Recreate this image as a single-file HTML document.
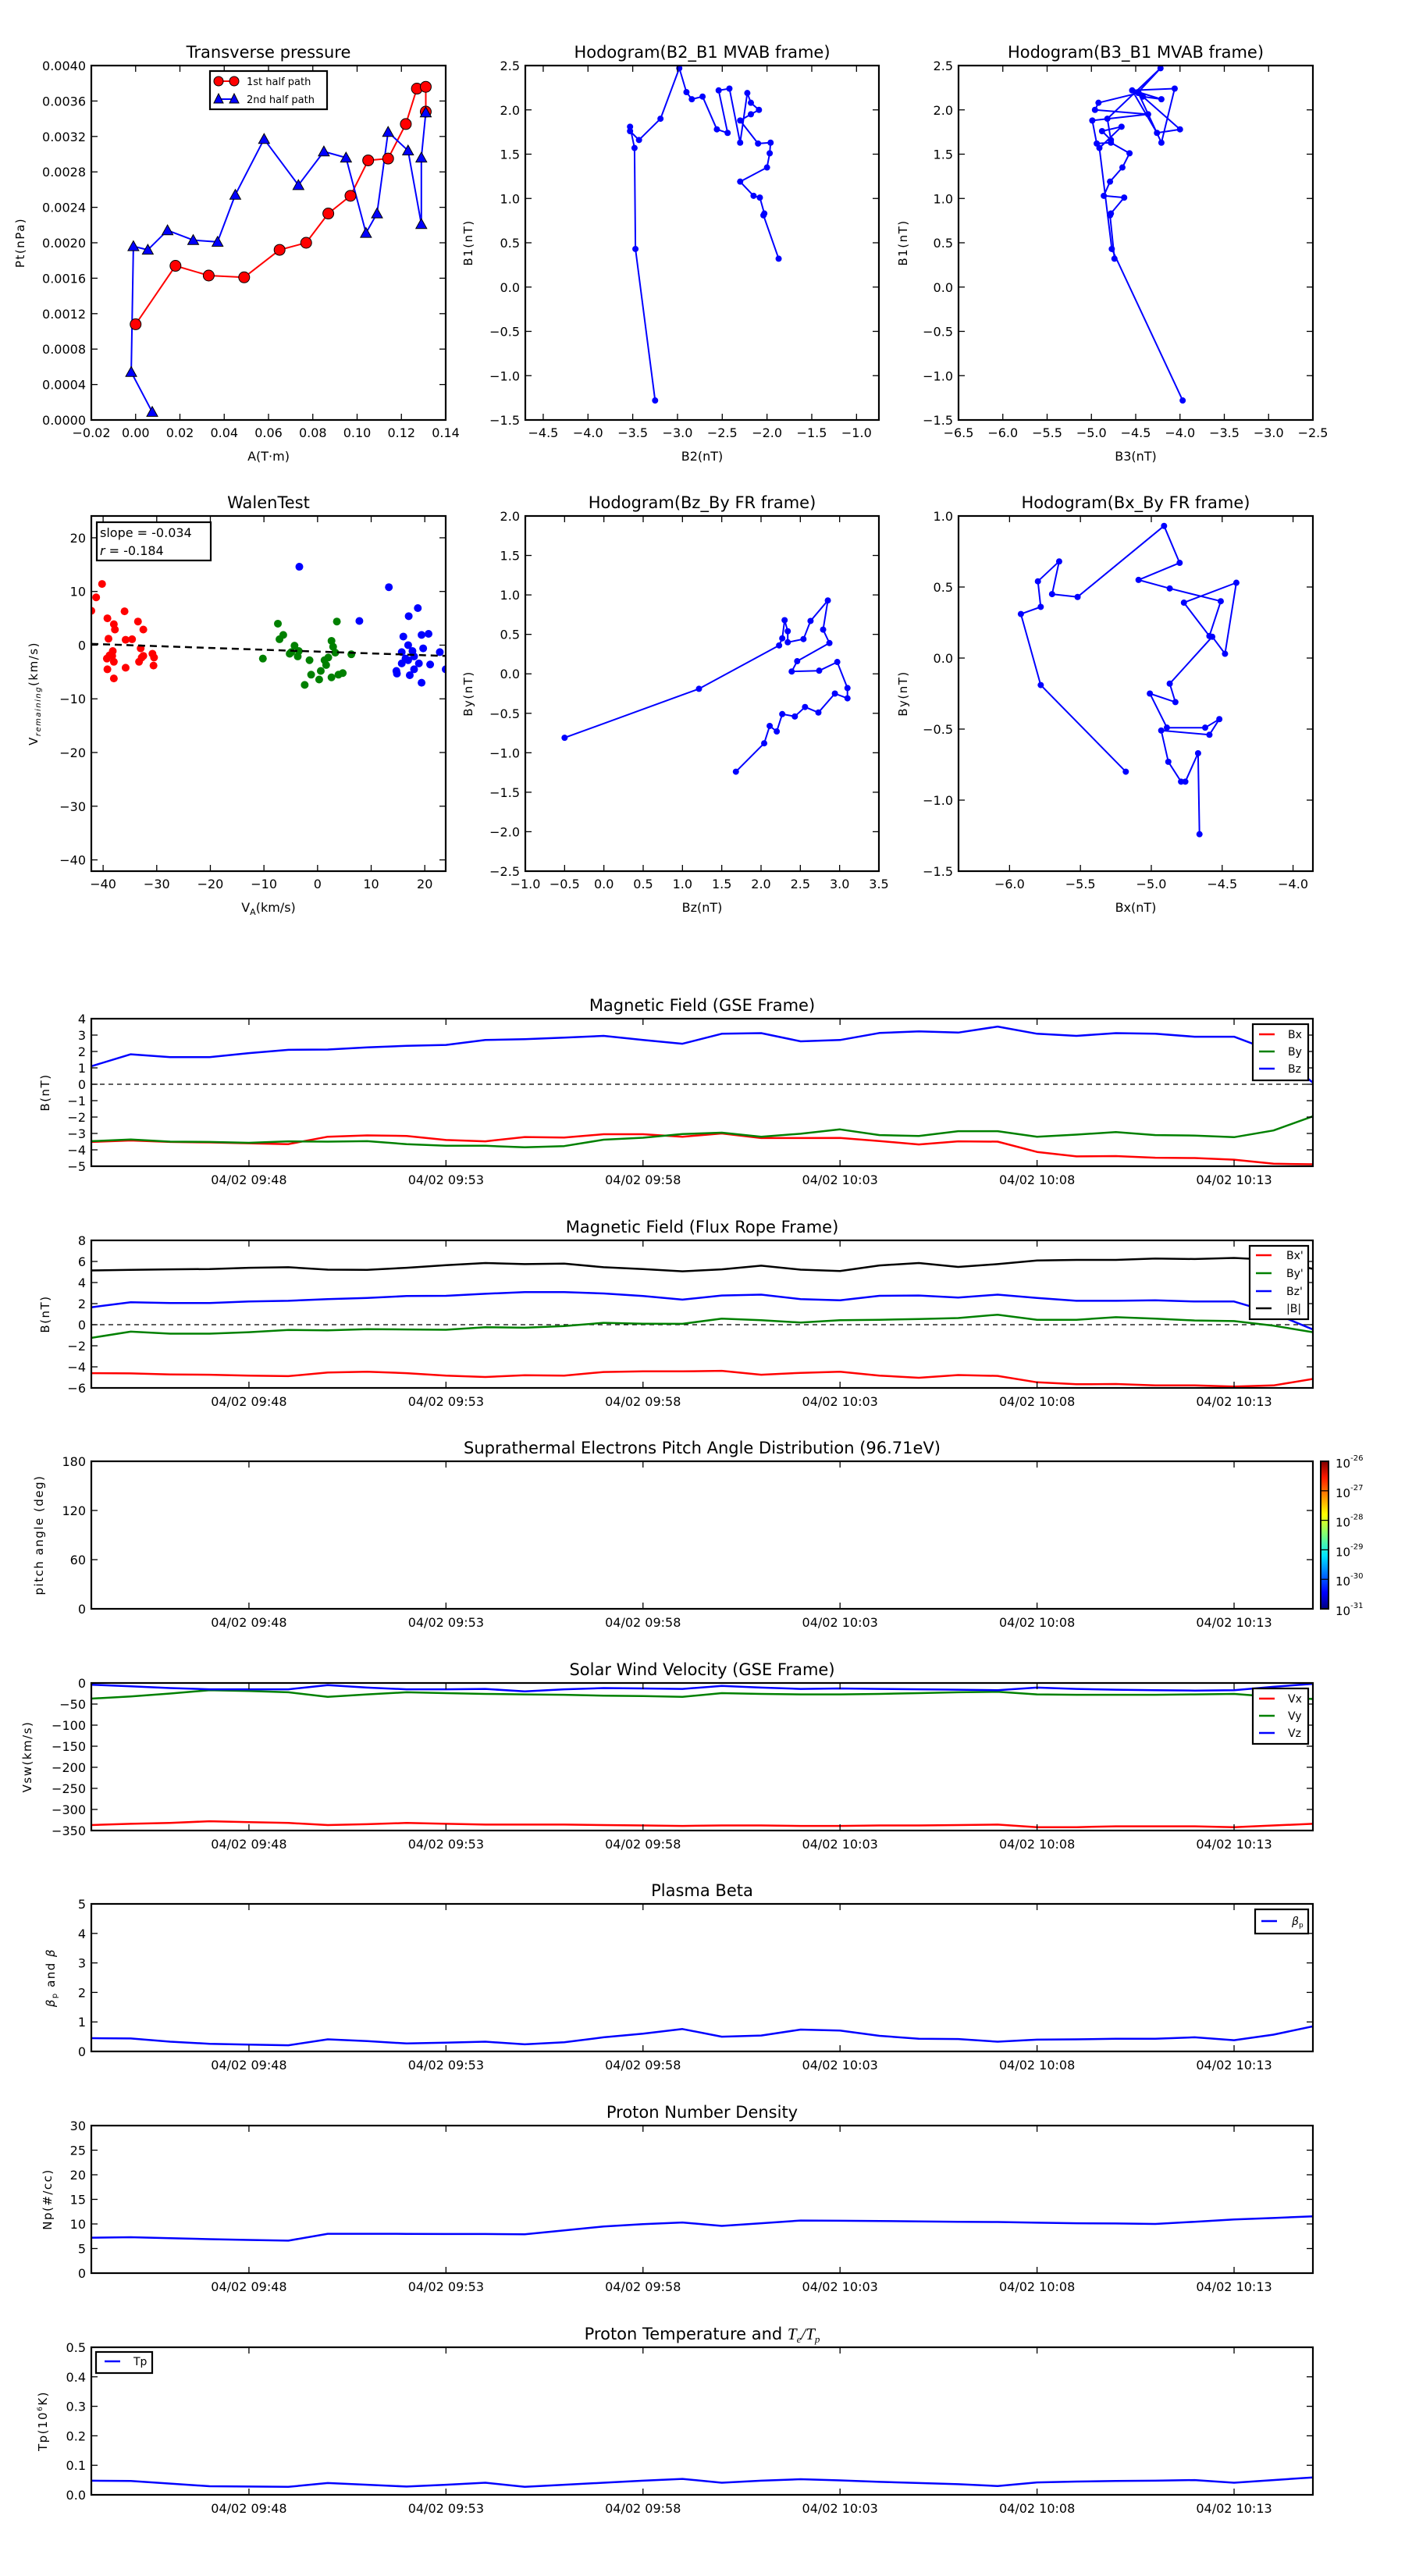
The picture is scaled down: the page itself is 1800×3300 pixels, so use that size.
<!DOCTYPE html>
<html><head><meta charset="utf-8">
<style>
html,body{margin:0;padding:0;background:#fff;}
svg{display:block;font-family:"DejaVu Sans","Liberation Sans",sans-serif;}
</style></head>
<body>
<svg id="chart" xmlns="http://www.w3.org/2000/svg" width="1800" height="3300" viewBox="0 0 1800 3300">
<defs>
<linearGradient id="jet" x1="0" y1="1" x2="0" y2="0">
<stop offset="0" stop-color="#00007f"/><stop offset="0.11" stop-color="#0000ff"/><stop offset="0.36" stop-color="#00e5ff"/><stop offset="0.5" stop-color="#7cff79"/><stop offset="0.64" stop-color="#ffff00"/><stop offset="0.89" stop-color="#ff1a00"/><stop offset="1" stop-color="#7f0000"/>
</linearGradient>
</defs>
</svg>
<script>
// ---------- data ----------
const minutes = [0,1,2,3,4,5,6,7,8,9,10,11,12,13,14,15,16,17,18,19,20,21,22,23,24,25,26,27,28,29,30,31];
const timeTickMinutes = [4,9,14,19,24,29];
const timeTickLabels = ["04/02 09:48","04/02 09:53","04/02 09:58","04/02 10:03","04/02 10:08","04/02 10:13"];

const gseBx = [-3.52,-3.43,-3.52,-3.55,-3.6,-3.65,-3.2,-3.12,-3.15,-3.4,-3.48,-3.22,-3.25,-3.05,-3.05,-3.2,-3.0,-3.28,-3.28,-3.27,-3.46,-3.67,-3.48,-3.5,-4.13,-4.4,-4.38,-4.48,-4.5,-4.6,-4.85,-4.88];
const gseBy = [-3.47,-3.37,-3.5,-3.52,-3.57,-3.48,-3.5,-3.47,-3.65,-3.75,-3.75,-3.85,-3.77,-3.38,-3.26,-3.04,-2.95,-3.2,-3.02,-2.75,-3.1,-3.15,-2.86,-2.86,-3.2,-3.07,-2.92,-3.1,-3.13,-3.23,-2.82,-1.95];
const gseBz = [1.1,1.83,1.65,1.65,1.9,2.1,2.12,2.25,2.35,2.4,2.7,2.75,2.85,2.95,2.7,2.47,3.08,3.12,2.62,2.7,3.13,3.23,3.15,3.52,3.08,2.95,3.12,3.08,2.9,2.9,2.0,0.1];

const frBx = [-4.6,-4.62,-4.72,-4.75,-4.83,-4.88,-4.54,-4.46,-4.6,-4.83,-4.96,-4.8,-4.83,-4.49,-4.43,-4.43,-4.38,-4.75,-4.57,-4.46,-4.83,-5.04,-4.78,-4.86,-5.47,-5.65,-5.63,-5.76,-5.76,-5.87,-5.76,-5.15];
const frBy = [-1.25,-0.66,-0.85,-0.85,-0.71,-0.5,-0.53,-0.42,-0.45,-0.48,-0.24,-0.29,-0.13,0.18,0.1,0.08,0.58,0.42,0.21,0.42,0.47,0.53,0.63,0.95,0.47,0.47,0.71,0.58,0.4,0.34,-0.1,-0.71];
const frBz = [1.65,2.13,2.06,2.06,2.2,2.27,2.43,2.53,2.72,2.74,2.93,3.09,3.09,2.96,2.72,2.38,2.77,2.85,2.43,2.32,2.74,2.77,2.58,2.85,2.53,2.27,2.27,2.32,2.2,2.2,1.1,-0.45];
const frBt = [5.15,5.2,5.25,5.28,5.4,5.45,5.22,5.2,5.4,5.65,5.85,5.75,5.8,5.45,5.28,5.07,5.25,5.6,5.22,5.1,5.62,5.85,5.48,5.75,6.1,6.15,6.15,6.28,6.23,6.33,6.15,5.3];

const swVx = [-337,-334,-332,-328,-330,-332,-337,-335,-332,-334,-336,-336,-336,-337,-338,-339,-338,-338,-339,-339,-338,-338,-337,-336,-342,-342,-340,-340,-340,-342,-338,-334];
const swVy = [-37,-32,-25,-17,-19,-22,-33,-27,-22,-24,-26,-27,-28,-30,-31,-33,-24,-26,-27,-27,-26,-24,-22,-21,-27,-28,-28,-28,-27,-26,-33,-38];
const swVz = [-4,-8,-12,-15,-15,-15,-5,-11,-15,-15,-14,-20,-15,-12,-13,-14,-7,-11,-14,-13,-14,-15,-16,-17,-11,-14,-16,-17,-18,-17,-9,-2];

const betaP = [0.45,0.44,0.33,0.26,0.23,0.21,0.41,0.35,0.27,0.3,0.33,0.24,0.31,0.48,0.6,0.76,0.5,0.54,0.74,0.71,0.53,0.43,0.42,0.33,0.4,0.41,0.43,0.43,0.48,0.38,0.57,0.85];
const densityNp = [7.2,7.3,7.1,6.9,6.75,6.6,8.0,8.0,7.98,7.95,7.95,7.9,8.7,9.5,9.95,10.3,9.6,10.15,10.7,10.65,10.6,10.5,10.45,10.4,10.25,10.15,10.1,10.0,10.45,10.9,11.2,11.55];
const tempTp = [0.048,0.047,0.038,0.029,0.028,0.027,0.040,0.034,0.028,0.034,0.041,0.027,0.034,0.041,0.048,0.054,0.041,0.048,0.053,0.049,0.044,0.040,0.036,0.030,0.042,0.045,0.047,0.048,0.050,0.041,0.050,0.059];

const pt1A = [0.0,0.018,0.033,0.049,0.065,0.077,0.087,0.097,0.105,0.114,0.122,0.127,0.131,0.131];
const pt1P = [0.00108,0.00174,0.00163,0.00161,0.00192,0.0020,0.00233,0.00253,0.00293,0.00295,0.00334,0.00374,0.00376,0.00348];
const pt2A = [0.0075,-0.002,-0.001,0.0055,0.0144,0.026,0.037,0.045,0.058,0.0735,0.085,0.095,0.104,0.109,0.114,0.123,0.129,0.129,0.131];
const pt2P = [0.00009,0.00054,0.00196,0.00192,0.00214,0.00203,0.00201,0.00254,0.00317,0.00265,0.00303,0.00296,0.00211,0.00233,0.00325,0.00304,0.00221,0.00296,0.00347];

const mvB1 = [-1.28,0.43,1.57,1.81,1.76,1.66,1.90,2.47,2.2,2.12,2.15,1.78,1.74,2.22,2.24,1.63,2.19,2.08,2.0,1.95,1.88,1.62,1.63,1.51,1.35,1.19,1.03,1.01,0.83,0.81,0.32];
const mvB2 = [-3.25,-3.47,-3.48,-3.53,-3.53,-3.43,-3.19,-2.98,-2.9,-2.84,-2.72,-2.56,-2.44,-2.54,-2.42,-2.3,-2.22,-2.18,-2.09,-2.18,-2.3,-2.1,-1.96,-1.97,-2.0,-2.3,-2.15,-2.08,-2.03,-2.04,-1.87];
const mvB3 = [-3.97,-4.77,-4.91,-4.66,-4.88,-4.78,-4.82,-4.22,-4.47,-4.21,-4.42,-4.0,-4.26,-4.54,-4.06,-4.21,-4.47,-4.92,-4.96,-4.36,-4.99,-4.94,-4.78,-4.57,-4.65,-4.79,-4.86,-4.63,-4.78,-4.79,-4.74];

const walenRedX = [-40.2,-41.3,-42.2,-36,-39.2,-38,-33.5,-32.5,-37.8,-39,-35.8,-34.6,-33,-38.2,-30.8,-38.8,-32.5,-30.5,-39.3,-38,-33.3,-35.8,-39.2,-30.6,-38,-32.8,-38.3];
const walenRedY = [11.4,8.9,6.4,6.3,5.0,3.9,4.4,2.9,2.9,1.2,1.0,1.1,-0.6,-1.1,-1.6,-1.9,-2.0,-2.3,-2.5,-3.1,-3.1,-4.2,-4.5,-3.8,-6.2,-2.3,-2.0];
const walenGreenX = [-7.4,-6.4,-7.1,-10.2,-4.3,-3.5,-5.2,-3.7,-1.5,1.3,1.6,3.6,2.6,2.9,3.3,6.3,2.0,-1.2,0.3,-2.4,2.6,4.7,0.6,3.9,-4.9];
const walenGreenY = [4.0,1.9,1.1,-2.5,-0.1,-1.1,-1.6,-2.1,-2.8,-2.8,-3.7,4.4,0.8,-0.3,-1.4,-1.7,-2.3,-5.5,-6.4,-7.4,-6.0,-5.2,-4.8,-5.5,-1.3];
const walenBlueX = [-3.4,13.3,7.8,18.7,17,20.7,16,19.4,16.9,19.7,22.8,15.7,18,16.9,15.7,18.9,21,23.9,18,14.8,17.2,19.4,14.7,17.7,16.4];
const walenBlueY = [14.6,10.8,4.5,6.9,5.4,2.1,1.6,1.9,0.0,-0.6,-1.3,-1.3,-2.1,-2.8,-3.4,-3.4,-3.6,-4.5,-4.5,-5.3,-5.6,-7.0,-4.8,-1.1,-2.5];
const walenSlope = -0.034;
const walenIntercept = -1.2;

const frHodoBz = [-0.5,1.21,2.23,2.27,2.3,2.34,2.34,2.54,2.63,2.85,2.79,2.87,2.46,2.39,2.74,2.97,3.1,3.1,2.94,2.73,2.56,2.43,2.27,2.2,2.11,2.04,1.68];
const frHodoByZ = [-0.81,-0.19,0.36,0.45,0.68,0.54,0.40,0.44,0.67,0.93,0.56,0.39,0.16,0.03,0.04,0.15,-0.18,-0.31,-0.25,-0.49,-0.42,-0.54,-0.51,-0.73,-0.66,-0.88,-1.24];
const frHodoBx = [-5.18,-5.78,-5.92,-5.78,-5.8,-5.65,-5.70,-5.52,-4.91,-4.8,-5.09,-4.87,-4.51,-4.59,-4.77,-4.4,-4.48,-4.57,-4.87,-4.83,-5.01,-4.89,-4.62,-4.52,-4.59,-4.93,-4.88,-4.79,-4.76,-4.67,-4.66];
const frHodoByX = [-0.80,-0.19,0.31,0.36,0.54,0.68,0.45,0.43,0.93,0.67,0.55,0.49,0.40,0.155,0.39,0.53,0.03,0.15,-0.18,-0.31,-0.25,-0.49,-0.49,-0.43,-0.54,-0.51,-0.73,-0.87,-0.87,-0.67,-1.24];

// ---------- helpers ----------
const NS = "http://www.w3.org/2000/svg";
const svg = document.getElementById('chart');
function mk(tag, attrs, parent){
  const e = document.createElementNS(NS, tag);
  for (const k in attrs) e.setAttribute(k, attrs[k]);
  (parent || svg).appendChild(e);
  return e;
}
function txt(str, attrs, parent){
  const e = mk('text', attrs, parent);
  e.textContent = str;
  return e;
}
const M = s => String(s).replace('-', '\u2212');
let clipId = 0;

function drawAxes(c){
  const g = mk('g', {});
  
  
  const sx = v => c.x0 + (v - c.xmin) / (c.xmax - c.xmin) * (c.x1 - c.x0);
  const sy = v => c.y1 - (v - c.ymin) / (c.ymax - c.ymin) * (c.y1 - c.y0);
  const id = 'clip' + (clipId++);
  const cp = mk('clipPath', {id: id}, g);
  mk('rect', {x: c.x0, y: c.y0, width: c.x1 - c.x0, height: c.y1 - c.y0}, cp);
  const data = mk('g', {'clip-path': 'url(#' + id + ')'}, g);
  
  
  const ax = mk('g', {stroke: '#000', 'stroke-width': 1.3}, g);
  
  
  c.xticks.forEach((v, i) => {
    const x = sx(v);
    mk('line', {x1: x, y1: c.y1, x2: x, y2: c.y1 - 8}, ax);
    mk('line', {x1: x, y1: c.y0, x2: x, y2: c.y0 + 8}, ax);
    const t = txt(c.xlabels[i], {x: x, y: c.y1 + (c.xlabOff || 23), 'text-anchor': 'middle', 'font-size': 16}, g);
    
    
  });
  c.yticks.forEach((v, i) => {
    const y = sy(v);
    mk('line', {x1: c.x0, y1: y, x2: c.x0 + 8, y2: y}, ax);
    mk('line', {x1: c.x1, y1: y, x2: c.x1 - 8, y2: y}, ax);
    const t = txt(c.ylabels[i], {x: c.x0 - 7, y: y + 6, 'text-anchor': 'end', 'font-size': 16}, g);
    
    
  });
  const ttl = mk('text', {x: (c.x0 + c.x1) / 2, y: c.y0 - 10, 'text-anchor': 'middle', 'font-size': 21}, g);
  ttl.innerHTML = c.title;
  
  
  if (c.xlabel){
    const xl = mk('text', {x: (c.x0 + c.x1) / 2, y: c.y1 + 52, 'text-anchor': 'middle', 'font-size': 16}, g);
    xl.innerHTML = c.xlabel;
    
    
  }
  if (c.ylabel){
    const cy = (c.y0 + c.y1) / 2;
    const yl = mk('text', {x: c.ylx, y: cy, 'text-anchor': 'middle', 'font-size': 15, 'letter-spacing': 1.5, transform: 'rotate(-90 ' + c.ylx + ' ' + cy + ')'}, g);
    yl.innerHTML = c.ylabel;
    
    
  }
  const fr = mk('rect', {x: c.x0, y: c.y0, width: c.x1 - c.x0, height: c.y1 - c.y0, fill: 'none', stroke: '#000', 'stroke-width': 2.2}, g);
  
  
  return {g: g, data: data, sx: sx, sy: sy};
}
function polyline(a, xs, ys, color, w, name){
  const pts = xs.map((x, i) => a.sx(x).toFixed(1) + ',' + a.sy(ys[i]).toFixed(1)).join(' ');
  const p = mk('polyline', {points: pts, fill: 'none', stroke: color, 'stroke-width': w, 'stroke-linejoin': 'round'}, a.data);
  
  
  return p;
}
function dots(a, xs, ys, color, r, name, stroke){
  xs.forEach((x, i) => {
    const c = mk('circle', {cx: a.sx(x), cy: a.sy(ys[i]), r: r, fill: color, stroke: stroke || 'none', 'stroke-width': 1}, a.data);
    
    
  });
}
function tris(a, xs, ys, color, s, name){
  xs.forEach((x, i) => {
    const cx = a.sx(x), cy = a.sy(ys[i]);
    const p = mk('polygon', {points: cx + ',' + (cy - s) + ' ' + (cx - s) + ',' + (cy + s * 0.8) + ' ' + (cx + s) + ',' + (cy + s * 0.8), fill: color, stroke: '#000', 'stroke-width': 1}, a.data);
    
    
  });
}
function legend(x0, y0, w, h, entries, name){
  const g = mk('g', {});
  
  
  const r = mk('rect', {x: x0, y: y0, width: w, height: h, fill: '#fff', stroke: '#000', 'stroke-width': 2.2}, g);
  
  
  entries.forEach(e => {
    const l = mk('line', {x1: e.lx, y1: e.y, x2: e.lx + 20, y2: e.y, stroke: e.color, 'stroke-width': 2.5}, g);
    
    
    const t = mk('text', {x: e.tx, y: e.y + 5, 'font-size': 14}, g);
    t.innerHTML = e.label;
    
    
  });
}
const lbl = arr => arr.map(M);

// ---------- Row 1 ----------
const a1 = drawAxes({name: 'transverse-pressure-chart', x0: 117, x1: 571, y0: 84, y1: 538, xmin: -0.02, xmax: 0.14, ymin: 0, ymax: 0.004,
  xticks: [-0.02,0,0.02,0.04,0.06,0.08,0.10,0.12,0.14], xlabels: lbl(['-0.02','0.00','0.02','0.04','0.06','0.08','0.10','0.12','0.14']),
  yticks: [0,0.0004,0.0008,0.0012,0.0016,0.0020,0.0024,0.0028,0.0032,0.0036,0.0040],
  ylabels: ['0.0000','0.0004','0.0008','0.0012','0.0016','0.0020','0.0024','0.0028','0.0032','0.0036','0.0040'],
  title: 'Transverse pressure', xlabel: 'A(T\u00b7m)', ylabel: 'Pt(nPa)', ylx: 31, xlabOff: 22});
polyline(a1, pt1A, pt1P, '#ff0000', 2, 'first-half-path-line');
polyline(a1, pt2A, pt2P, '#0000ff', 2, 'second-half-path-line');
dots(a1, pt1A, pt1P, '#ff0000', 7, 'first-half-point', '#000');
tris(a1, pt2A, pt2P, '#0000ff', 7, 'second-half-point');
(function(){
  const g = mk('g', {});
  
  
  mk('rect', {x: 269, y: 91, width: 150, height: 49, fill: '#fff', stroke: '#000', 'stroke-width': 2.2}, g);
  mk('line', {x1: 280, y1: 104, x2: 300, y2: 104, stroke: '#ff0000', 'stroke-width': 2}, g);
  mk('circle', {cx: 280, cy: 104, r: 6, fill: '#ff0000', stroke: '#000'}, g);
  mk('circle', {cx: 300, cy: 104, r: 6, fill: '#ff0000', stroke: '#000'}, g);
  mk('line', {x1: 280, y1: 127, x2: 300, y2: 127, stroke: '#0000ff', 'stroke-width': 2}, g);
  mk('polygon', {points: '280,120 274,132 286,132', fill: '#0000ff', stroke: '#000'}, g);
  mk('polygon', {points: '300,120 294,132 306,132', fill: '#0000ff', stroke: '#000'}, g);
  const t1 = txt('1st half path', {x: 316, y: 109, 'font-size': 13}, g);
  
  
  const t2 = txt('2nd half path', {x: 316, y: 132, 'font-size': 13}, g);
  
  
})();

const halfTicks = [-1.5,-1.0,-0.5,0.0,0.5,1.0,1.5,2.0,2.5];
const halfLabels = lbl(['-1.5','-1.0','-0.5','0.0','0.5','1.0','1.5','2.0','2.5']);
const a2 = drawAxes({name: 'hodogram-b2-b1-chart', x0: 673, x1: 1126, y0: 84, y1: 538, xmin: -4.7, xmax: -0.75, ymin: -1.5, ymax: 2.5,
  xticks: [-4.5,-4.0,-3.5,-3.0,-2.5,-2.0,-1.5,-1.0], xlabels: lbl(['-4.5','-4.0','-3.5','-3.0','-2.5','-2.0','-1.5','-1.0']),
  yticks: halfTicks, ylabels: halfLabels, title: 'Hodogram(B2_B1 MVAB frame)', xlabel: 'B2(nT)', ylabel: 'B1(nT)', ylx: 605, xlabOff: 22});
polyline(a2, mvB2, mvB1, '#0000ff', 2, 'hodogram-line');
dots(a2, mvB2, mvB1, '#0000ff', 4, 'hodogram-point');

const a3 = drawAxes({name: 'hodogram-b3-b1-chart', x0: 1228, x1: 1682, y0: 84, y1: 538, xmin: -6.5, xmax: -2.5, ymin: -1.5, ymax: 2.5,
  xticks: [-6.5,-6.0,-5.5,-5.0,-4.5,-4.0,-3.5,-3.0,-2.5], xlabels: lbl(['-6.5','-6.0','-5.5','-5.0','-4.5','-4.0','-3.5','-3.0','-2.5']),
  yticks: halfTicks, ylabels: halfLabels, title: 'Hodogram(B3_B1 MVAB frame)', xlabel: 'B3(nT)', ylabel: 'B1(nT)', ylx: 1162, xlabOff: 22});
polyline(a3, mvB3, mvB1, '#0000ff', 2, 'hodogram-line');
dots(a3, mvB3, mvB1, '#0000ff', 4, 'hodogram-point');

// ---------- Row 2 ----------
const a4 = drawAxes({name: 'walen-test-chart', x0: 117, x1: 571, y0: 661, y1: 1116, xmin: -42.2, xmax: 23.9, ymin: -42.1, ymax: 24.06,
  xticks: [-40,-30,-20,-10,0,10,20], xlabels: lbl(['-40','-30','-20','-10','0','10','20']),
  yticks: [-40,-30,-20,-10,0,10,20], ylabels: lbl(['-40','-30','-20','-10','0','10','20']),
  title: 'WalenTest', xlabel: 'V<tspan font-size="11" dy="4">A</tspan><tspan dy="-4">(km/s)</tspan>',
  ylabel: 'V<tspan font-size="10" font-style="italic" dy="4">remaining</tspan><tspan dy="-4">(km/s)</tspan>', ylx: 48, xlabOff: 22});
dots(a4, walenRedX, walenRedY, '#ff0000', 5, 'walen-point-red');
dots(a4, walenGreenX, walenGreenY, '#008000', 5, 'walen-point-green');
dots(a4, walenBlueX, walenBlueY, '#0000ff', 5, 'walen-point-blue');
(function(){
  const xa = -42.2, xb = 23.9;
  const l = mk('line', {x1: a4.sx(xa), y1: a4.sy(walenSlope * xa + walenIntercept), x2: a4.sx(xb), y2: a4.sy(walenSlope * xb + walenIntercept), stroke: '#000', 'stroke-width': 2.5, 'stroke-dasharray': '9,6'}, a4.data);
  
  
  const g = mk('g', {});
  
  
  mk('rect', {x: 124, y: 669, width: 146, height: 49, fill: '#fff', stroke: '#000', 'stroke-width': 2.2}, g);
  txt('slope = -0.034', {x: 128, y: 688, 'font-size': 16}, g);
  const t = mk('text', {x: 128, y: 711, 'font-size': 16}, g);
  t.innerHTML = '<tspan font-style="italic">r</tspan> = -0.184';
})();

const a5 = drawAxes({name: 'hodogram-bz-by-chart', x0: 673, x1: 1126, y0: 661, y1: 1116, xmin: -1.0, xmax: 3.5, ymin: -2.5, ymax: 2.0,
  xticks: [-1.0,-0.5,0,0.5,1.0,1.5,2.0,2.5,3.0,3.5], xlabels: lbl(['-1.0','-0.5','0.0','0.5','1.0','1.5','2.0','2.5','3.0','3.5']),
  yticks: [-2.5,-2.0,-1.5,-1.0,-0.5,0,0.5,1.0,1.5,2.0], ylabels: lbl(['-2.5','-2.0','-1.5','-1.0','-0.5','0.0','0.5','1.0','1.5','2.0']),
  title: 'Hodogram(Bz_By FR frame)', xlabel: 'Bz(nT)', ylabel: 'By(nT)', ylx: 605, xlabOff: 22});
polyline(a5, frHodoBz, frHodoByZ, '#0000ff', 2, 'hodogram-line');
dots(a5, frHodoBz, frHodoByZ, '#0000ff', 4, 'hodogram-point');

const a6 = drawAxes({name: 'hodogram-bx-by-chart', x0: 1228, x1: 1682, y0: 661, y1: 1116, xmin: -6.36, xmax: -3.86, ymin: -1.5, ymax: 1.0,
  xticks: [-6.0,-5.5,-5.0,-4.5,-4.0], xlabels: lbl(['-6.0','-5.5','-5.0','-4.5','-4.0']),
  yticks: [-1.5,-1.0,-0.5,0,0.5,1.0], ylabels: lbl(['-1.5','-1.0','-0.5','0.0','0.5','1.0']),
  title: 'Hodogram(Bx_By FR frame)', xlabel: 'Bx(nT)', ylabel: 'By(nT)', ylx: 1162, xlabOff: 22});
polyline(a6, frHodoBx, frHodoByX, '#0000ff', 2, 'hodogram-line');
dots(a6, frHodoBx, frHodoByX, '#0000ff', 4, 'hodogram-point');

// ---------- time series ----------
function tsAxes(name, y0, right, ymin, ymax, yticks, ylabels, title, ylabel, ylx){
  return drawAxes({name: name, x0: 117, x1: right, y0: y0, y1: y0 + 189, xmin: 0, xmax: 31, ymin: ymin, ymax: ymax,
    xticks: timeTickMinutes, xlabels: timeTickLabels, yticks: yticks, ylabels: ylabels, title: title, ylabel: ylabel, ylx: ylx});
}
function zeroLine(a, name){
  const l = mk('line', {x1: a.sx(0), y1: a.sy(0), x2: a.sx(31), y2: a.sy(0), stroke: '#000', 'stroke-width': 1.3, 'stroke-dasharray': '6,5'}, a.data);
  
  
}

const t1 = tsAxes('magnetic-field-gse-chart', 1305, 1682, -5, 4, [-5,-4,-3,-2,-1,0,1,2,3,4], lbl(['-5','-4','-3','-2','-1','0','1','2','3','4']), 'Magnetic Field (GSE Frame)', 'B(nT)', 63);
zeroLine(t1, 'zero-line');
polyline(t1, minutes, gseBx, '#ff0000', 2.5, 'bx-line');
polyline(t1, minutes, gseBy, '#008000', 2.5, 'by-line');
polyline(t1, minutes, gseBz, '#0000ff', 2.5, 'bz-line');
legend(1605, 1312, 71, 72, [{lx: 1613, tx: 1650, y: 1325, color: '#ff0000', label: 'Bx'}, {lx: 1613, tx: 1650, y: 1347, color: '#008000', label: 'By'}, {lx: 1613, tx: 1650, y: 1369, color: '#0000ff', label: 'Bz'}], 'gse-legend');

const t2 = tsAxes('magnetic-field-flux-rope-chart', 1589, 1682, -6, 8, [-6,-4,-2,0,2,4,6,8], lbl(['-6','-4','-2','0','2','4','6','8']), 'Magnetic Field (Flux Rope Frame)', 'B(nT)', 63);
zeroLine(t2, 'zero-line');
polyline(t2, minutes, frBx, '#ff0000', 2.5, 'bx-prime-line');
polyline(t2, minutes, frBy, '#008000', 2.5, 'by-prime-line');
polyline(t2, minutes, frBz, '#0000ff', 2.5, 'bz-prime-line');
polyline(t2, minutes, frBt, '#000000', 2.5, 'b-magnitude-line');
legend(1601, 1596, 75, 94, [{lx: 1609, tx: 1648, y: 1608, color: '#ff0000', label: "Bx'"}, {lx: 1609, tx: 1648, y: 1631, color: '#008000', label: "By'"}, {lx: 1609, tx: 1648, y: 1654, color: '#0000ff', label: "Bz'"}, {lx: 1609, tx: 1648, y: 1676, color: '#000000', label: '|B|'}], 'flux-rope-legend');

const t3 = tsAxes('pitch-angle-distribution-chart', 1872, 1682, 0, 180, [0,60,120,180], ['0','60','120','180'], 'Suprathermal Electrons Pitch Angle Distribution (96.71eV)', 'pitch angle (deg)', 55);
(function(){
  const g = mk('g', {});
  
  
  mk('rect', {x: 1692, y: 1872, width: 10, height: 189, fill: 'url(#jet)', stroke: '#000', 'stroke-width': 2}, g);
  const exps = ['-31','-30','-29','-28','-27','-26'];
  exps.forEach((e, i) => {
    const y = 2061 - i * 189 / 5;
    mk('line', {x1: 1692, y1: y, x2: 1702, y2: y, stroke: '#000', 'stroke-width': 1.2}, g);
    const t = mk('text', {x: 1711, y: y + 8, 'font-size': 15}, g);
    t.innerHTML = '10<tspan font-size="10" dy="-9">' + e + '</tspan>';
    
    
  });
})();

const t4 = tsAxes('solar-wind-velocity-chart', 2156, 1682, -350, 0, [-350,-300,-250,-200,-150,-100,-50,0], lbl(['-350','-300','-250','-200','-150','-100','-50','0']), 'Solar Wind Velocity (GSE Frame)', 'Vsw(km/s)', 40);
polyline(t4, minutes, swVx, '#ff0000', 2.5, 'vx-line');
polyline(t4, minutes, swVy, '#008000', 2.5, 'vy-line');
polyline(t4, minutes, swVz, '#0000ff', 2.5, 'vz-line');
legend(1605, 2163, 71, 71, [{lx: 1613, tx: 1650, y: 2176, color: '#ff0000', label: 'Vx'}, {lx: 1613, tx: 1650, y: 2198, color: '#008000', label: 'Vy'}, {lx: 1613, tx: 1650, y: 2220, color: '#0000ff', label: 'Vz'}], 'velocity-legend');

const t5 = tsAxes('plasma-beta-chart', 2439, 1682, 0, 5, [0,1,2,3,4,5], ['0','1','2','3','4','5'], 'Plasma Beta', '<tspan font-style="italic">β</tspan><tspan font-size="10" dy="3">p</tspan><tspan dy="-3"> and </tspan><tspan font-style="italic">β</tspan>', 70);
polyline(t5, minutes, betaP, '#0000ff', 2.5, 'beta-p-line');
legend(1608, 2446, 68, 31, [{lx: 1616, tx: 1655, y: 2461, color: '#0000ff', label: '<tspan font-style="italic">β</tspan><tspan font-size="9" dy="3">p</tspan>'}], 'beta-legend');

const t6 = tsAxes('proton-density-chart', 2723, 1682, 0, 30, [0,5,10,15,20,25,30], ['0','5','10','15','20','25','30'], 'Proton Number Density', 'Np(#/cc)', 66);
polyline(t6, minutes, densityNp, '#0000ff', 2.5, 'density-line');

const t7 = tsAxes('proton-temperature-chart', 3007, 1682, 0, 0.5, [0,0.1,0.2,0.3,0.4,0.5], ['0.0','0.1','0.2','0.3','0.4','0.5'], 'Proton Temperature and <tspan font-family="Liberation Serif" font-style="italic">T<tspan font-size="13" dy="4">e</tspan><tspan dy="-4">/T</tspan><tspan font-size="13" dy="4">p</tspan></tspan>', 'Tp(10<tspan font-size="9" dy="-6">6</tspan><tspan dy="6">K)</tspan>', 60);
polyline(t7, minutes, tempTp, '#0000ff', 2.5, 'tp-line');
legend(123, 3013, 72, 27, [{lx: 134, tx: 171, y: 3025, color: '#0000ff', label: 'Tp'}], 'temperature-legend');
</script>
</body></html>
